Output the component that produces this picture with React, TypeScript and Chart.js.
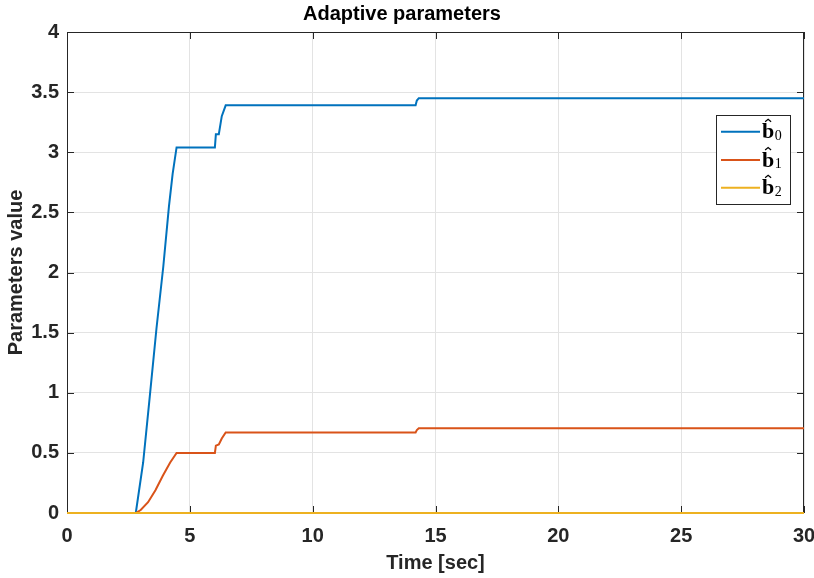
import React, { useEffect, useRef } from "react";
import { Chart, registerables } from "chart.js";

Chart.register(...registerables);

const chartTitle = "Adaptive parameters";
const xLabel = "Time [sec]";
const yLabel = "Parameters value";
const seriesNames = ["0", "1", "2"];
const seriesColors = ["#0072BD", "#D95319", "#EDB120"];

const b0Time = [0, 2.8, 3.1, 3.37, 3.64, 3.92, 4.15, 4.3, 4.46, 6.02, 6.06, 6.18, 6.3, 6.46, 14.19, 14.24, 14.32, 30];
const b0Value = [0, 0, 0.42, 0.97, 1.53, 2.05, 2.55, 2.82, 3.04, 3.04, 3.15, 3.15, 3.3, 3.39, 3.39, 3.43, 3.45, 3.45];

const b1Time = [0, 2.8, 3.0, 3.3, 3.6, 3.9, 4.2, 4.46, 6.02, 6.06, 6.18, 6.3, 6.46, 14.19, 14.24, 14.32, 30];
const b1Value = [0, 0, 0.025, 0.09, 0.19, 0.31, 0.42, 0.5, 0.5, 0.56, 0.57, 0.62, 0.67, 0.67, 0.69, 0.705, 0.705];

const b2Time = [0, 30];
const b2Value = [0, 0];

const xTicks = [0, 5, 10, 15, 20, 25, 30];
const yTicks = [0, 0.5, 1, 1.5, 2, 2.5, 3, 3.5, 4];

const toPoints = (t: number[], v: number[]) => t.map((x, i) => ({ x, y: v[i] }));

const AXIS = "#262626";

const boxPlugin = {
  id: "matlabBox",
  beforeDatasetsDraw(chart: any) {
    const { ctx, chartArea: a, scales } = chart;
    ctx.save();
    ctx.strokeStyle = AXIS;
    ctx.lineWidth = 1;
    ctx.strokeRect(a.left + 0.5, a.top + 0.5, a.right - a.left - 1, a.bottom - a.top - 1);
    const tl = 7;
    ctx.beginPath();
    xTicks.forEach((v) => {
      const x = Math.round(scales.x.getPixelForValue(v)) + 0.5;
      ctx.moveTo(x, a.bottom);
      ctx.lineTo(x, a.bottom - tl);
      ctx.moveTo(x, a.top);
      ctx.lineTo(x, a.top + tl);
    });
    yTicks.forEach((v) => {
      const y = Math.round(scales.y.getPixelForValue(v)) + 0.5;
      ctx.moveTo(a.left, y);
      ctx.lineTo(a.left + tl, y);
      ctx.moveTo(a.right, y);
      ctx.lineTo(a.right - tl, y);
    });
    ctx.stroke();
    ctx.restore();
  },
};

const legendPlugin = {
  id: "matlabLegend",
  afterDraw(chart: any) {
    const { ctx, chartArea: a } = chart;
    const right = a.right - 14;
    const top = a.top + 83;
    const w = 74;
    const h = 89;
    const left = right - w;
    ctx.save();
    ctx.fillStyle = "#ffffff";
    ctx.fillRect(left, top, w, h);
    ctx.strokeStyle = AXIS;
    ctx.lineWidth = 1;
    ctx.strokeRect(left + 0.5, top + 0.5, w, h);
    const rows = [16.7, 45, 72.7];
    chart.data.datasets.forEach((ds: any, i: number) => {
      const y = top + rows[i];
      ctx.strokeStyle = ds.borderColor;
      ctx.lineWidth = 2;
      ctx.beginPath();
      ctx.moveTo(left + 5, y);
      ctx.lineTo(left + 44, y);
      ctx.stroke();
      ctx.fillStyle = "#000000";
      ctx.textBaseline = "alphabetic";
      ctx.textAlign = "left";
      ctx.font = "bold 22px 'Liberation Serif', 'DejaVu Serif', serif";
      const bx = left + 46;
      ctx.fillText("b", bx, y + 6.7);
      const bw = ctx.measureText("b").width;
      ctx.lineWidth = 1.2;
      ctx.strokeStyle = "#000000";
      ctx.beginPath();
      ctx.moveTo(bx + bw / 2 - 3, y - 10);
      ctx.lineTo(bx + bw / 2, y - 12.5);
      ctx.lineTo(bx + bw / 2 + 3, y - 10);
      ctx.stroke();
      ctx.font = "14px 'Liberation Serif', 'DejaVu Serif', serif";
      ctx.fillText(ds.label, bx + bw + 0.5, y + 8.3);
    });
    ctx.restore();
  },
};

export default function App() {
  const ref = useRef<HTMLCanvasElement | null>(null);
  useEffect(() => {
    document.body.style.margin = "0";
    const canvas = ref.current;
    if (!canvas) return;
    const tickFont = { family: "'Liberation Sans', Arial, sans-serif", size: 20, weight: "bold" as const };
    const chart = new Chart(canvas, {
      type: "line",
      data: {
        datasets: [
          { label: seriesNames[0], data: toPoints(b0Time, b0Value), borderColor: seriesColors[0], order: 2 },
          { label: seriesNames[1], data: toPoints(b1Time, b1Value), borderColor: seriesColors[1], order: 1 },
          { label: seriesNames[2], data: toPoints(b2Time, b2Value), borderColor: seriesColors[2], order: 0 },
        ].map((d) => ({
          ...d,
          backgroundColor: d.borderColor,
          borderWidth: 2,
          pointRadius: 0,
          tension: 0,
          fill: false,
          clip: false as any,
        })),
      },
      options: {
        animation: false,
        responsive: false,
        maintainAspectRatio: false,
        layout: { padding: { right: 10, left: 0, top: 0, bottom: 0 } },
        plugins: {
          legend: { display: false },
          tooltip: { enabled: false },
          title: {
            display: true,
            text: chartTitle,
            color: "#000000",
            font: { family: "'Liberation Sans', Arial, sans-serif", size: 20, weight: "bold" },
            padding: { top: 2, bottom: 6 },
          },
        },
        scales: {
          x: {
            type: "linear",
            min: 0,
            max: 30,
            afterBuildTicks: (s: any) => {
              s.ticks = xTicks.map((v) => ({ value: v }));
            },
            afterFit: (s: any) => {
              s.height = 65;
              s.paddingLeft = 0;
              s.paddingRight = 0;
            },
            ticks: { color: AXIS, font: tickFont, padding: 11, maxRotation: 0, callback: (v: any) => String(v) },
            grid: { color: "#e3e3e3", drawTicks: false, lineWidth: 1 },
            border: { display: false },
            title: {
              display: true,
              text: xLabel,
              color: AXIS,
              font: tickFont,
              padding: { top: 3, bottom: 3 },
            },
          },
          y: {
            type: "linear",
            min: 0,
            max: 4,
            afterBuildTicks: (s: any) => {
              s.ticks = yTicks.map((v) => ({ value: v }));
            },
            afterFit: (s: any) => {
              s.width = 67;
              s.paddingTop = 0;
              s.paddingBottom = 0;
            },
            ticks: { color: AXIS, font: tickFont, padding: 8, callback: (v: any) => String(v) },
            grid: { color: "#e3e3e3", drawTicks: false, lineWidth: 1 },
            border: { display: false },
            title: {
              display: true,
              text: yLabel,
              color: AXIS,
              font: tickFont,
              padding: { top: 4, bottom: 3 },
            },
          },
        },
      },
      plugins: [boxPlugin, legendPlugin],
    });
    return () => chart.destroy();
  }, []);
  return (
    <div style={{ width: 814, height: 578 }}>
      <canvas ref={ref} width={814} height={578} />
    </div>
  );
}
